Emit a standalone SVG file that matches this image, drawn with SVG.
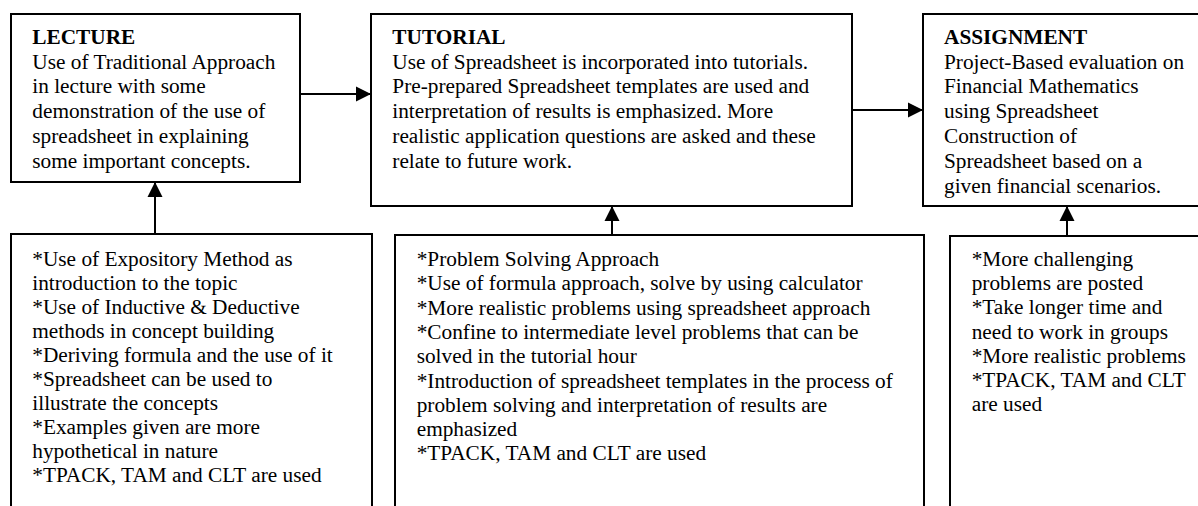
<svg xmlns="http://www.w3.org/2000/svg" width="1198" height="506" viewBox="0 0 1198 506">
<style>
.box{fill:#fff;stroke:#000;stroke-width:2}
.t{font-family:"Liberation Serif","Times New Roman",serif;font-size:21.3px;fill:#000}
.h{font-weight:bold}
.c{stroke:#000;stroke-width:2;fill:none}
</style>
<defs>
<marker id="ah" markerWidth="16" markerHeight="16" viewBox="0 0 16 16" refX="15" refY="8" orient="auto" markerUnits="userSpaceOnUse">
<path d="M0,0.5 L15,8 L0,15.5 Z" fill="#000"/>
</marker>
</defs>
<rect width="1198" height="506" fill="#fff"/>
<g id="lecture">
<rect class="box" x="11" y="14" width="289" height="168"/>
<text class="t" x="32.3" y="43.7"><tspan class="h">LECTURE</tspan><tspan x="32.3" dy="24.8">Use of Traditional Approach</tspan><tspan x="32.3" dy="24.8">in lecture with some</tspan><tspan x="32.3" dy="24.8">demonstration of the use of</tspan><tspan x="32.3" dy="24.8">spreadsheet in explaining</tspan><tspan x="32.3" dy="24.8">some important concepts.</tspan></text>
</g>
<g id="tutorial">
<rect class="box" x="371" y="14" width="481" height="192"/>
<text class="t" x="392.3" y="43.7"><tspan class="h">TUTORIAL</tspan><tspan x="392.3" dy="24.8">Use of Spreadsheet is incorporated into tutorials.</tspan><tspan x="392.3" dy="24.8">Pre-prepared Spreadsheet templates are used and</tspan><tspan x="392.3" dy="24.8">interpretation of results is emphasized. More</tspan><tspan x="392.3" dy="24.8">realistic application questions are asked and these</tspan><tspan x="392.3" dy="24.8">relate to future work.</tspan></text>
</g>
<g id="assignment">
<rect class="box" x="923" y="14" width="290" height="192"/>
<text class="t" x="944" y="43.7"><tspan class="h">ASSIGNMENT</tspan><tspan x="944" dy="24.8">Project-Based evaluation on</tspan><tspan x="944" dy="24.8">Financial Mathematics</tspan><tspan x="944" dy="24.8">using Spreadsheet</tspan><tspan x="944" dy="24.8">Construction of</tspan><tspan x="944" dy="24.8">Spreadsheet based on a</tspan><tspan x="944" dy="24.8">given financial scenarios.</tspan></text>
</g>
<g id="lecture-methods">
<rect class="box" x="11" y="234" width="361" height="290"/>
<text class="t" x="32.3" y="266"><tspan>*Use of Expository Method as</tspan><tspan x="32.3" dy="24">introduction to the topic</tspan><tspan x="32.3" dy="24">*Use of Inductive &amp; Deductive</tspan><tspan x="32.3" dy="24">methods in concept building</tspan><tspan x="32.3" dy="24">*Deriving formula and the use of it</tspan><tspan x="32.3" dy="24">*Spreadsheet can be used to</tspan><tspan x="32.3" dy="24">illustrate the concepts</tspan><tspan x="32.3" dy="24">*Examples given are more</tspan><tspan x="32.3" dy="24">hypothetical in nature</tspan><tspan x="32.3" dy="24">*TPACK, TAM and CLT are used</tspan></text>
</g>
<g id="tutorial-methods">
<rect class="box" x="395" y="235" width="529" height="290"/>
<text class="t" x="416.7" y="266"><tspan>*Problem Solving Approach</tspan><tspan x="416.7" dy="24.3">*Use of formula approach, solve by using calculator</tspan><tspan x="416.7" dy="24.3">*More realistic problems using spreadsheet approach</tspan><tspan x="416.7" dy="24.3">*Confine to intermediate level problems that can be</tspan><tspan x="416.7" dy="24.3">solved in the tutorial hour</tspan><tspan x="416.7" dy="24.3">*Introduction of spreadsheet templates in the process of</tspan><tspan x="416.7" dy="24.3">problem solving and interpretation of results are</tspan><tspan x="416.7" dy="24.3">emphasized</tspan><tspan x="416.7" dy="24.3">*TPACK, TAM and CLT are used</tspan></text>
</g>
<g id="assignment-methods">
<rect class="box" x="950" y="236" width="270" height="290"/>
<text class="t" x="971.7" y="266"><tspan>*More challenging</tspan><tspan x="971.7" dy="24.2">problems are posted</tspan><tspan x="971.7" dy="24.2">*Take longer time and</tspan><tspan x="971.7" dy="24.2">need to work in groups</tspan><tspan x="971.7" dy="24.2">*More realistic problems</tspan><tspan x="971.7" dy="24.2">*TPACK, TAM and CLT</tspan><tspan x="971.7" dy="24.2">are used</tspan></text>
</g>
<g id="connectors">
<line class="c" x1="300" y1="94" x2="371" y2="94" marker-end="url(#ah)"/>
<line class="c" x1="852" y1="110" x2="923" y2="110" marker-end="url(#ah)"/>
<line class="c" x1="155" y1="234" x2="155" y2="182" marker-end="url(#ah)"/>
<line class="c" x1="612" y1="235" x2="612" y2="206" marker-end="url(#ah)"/>
<line class="c" x1="1067" y1="236" x2="1067" y2="206" marker-end="url(#ah)"/>
</g>
</svg>
